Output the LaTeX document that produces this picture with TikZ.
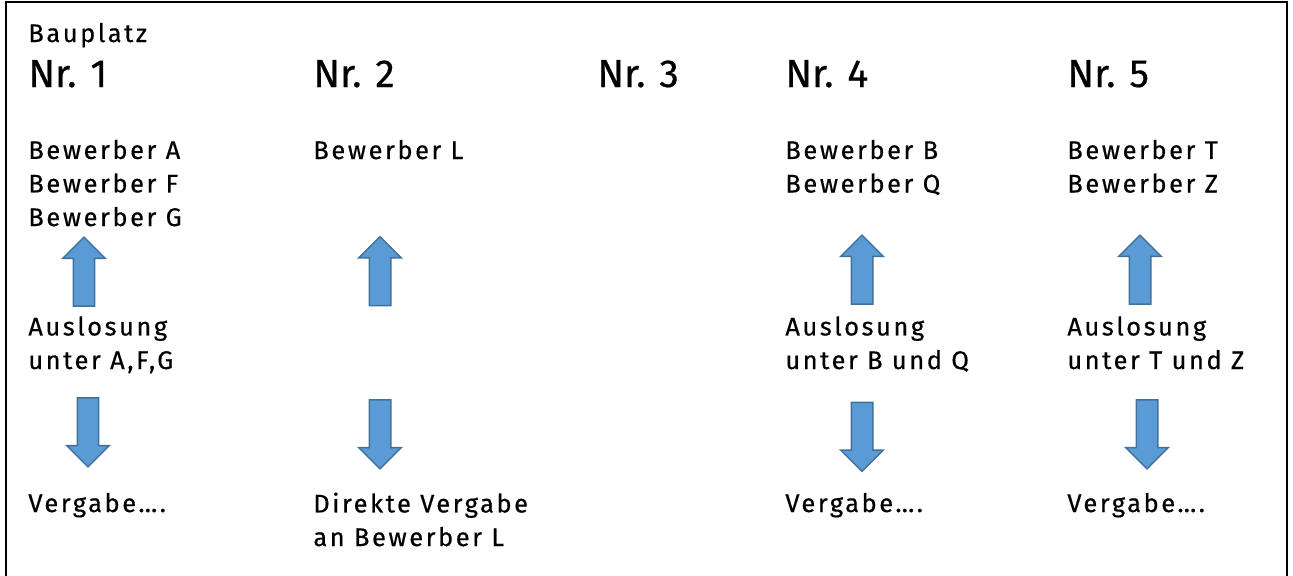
\documentclass[tikz,border=0pt]{standalone}
\usepackage{fontspec}
\setmainfont{Fira Sans}[FakeBold=0.5]
\newfontfamily\bodyfont{Fira Sans}[LetterSpace=10,FakeBold=0.5]
\usetikzlibrary{shapes.arrows}
\definecolor{arrowfill}{HTML}{5B9BD5}
\definecolor{arrowline}{HTML}{41719C}
\begin{document}
\begin{tikzpicture}[x=0.02cm,y=-0.02cm,
  txt/.style={anchor=base west,inner sep=0pt,align=left,font=\bodyfont\fontsize{14.5}{19.1}\selectfont},
  head/.style={anchor=base west,inner sep=0pt,font=\fontsize{22.3}{26}\selectfont},
  blockarrow/.style={single arrow,draw=arrowline,fill=arrowfill,line width=0.03cm,inner sep=0.2cm,
    minimum height=1.38cm,minimum width=0.82cm,single arrow head extend=0.21cm,single arrow tip angle=90}]
\useasboundingbox (0,0) rectangle (1293,575);
\begin{scope}
\clip (0,0) rectangle (1293,575);
\draw[line width=0.04cm] (6,1.5) rectangle (1287,600);
\end{scope}

% multi-line texts are placed by the baseline of their last line
\node(P)[txt] at (28,42) {Bauplatz};
\node(N1)[head] at (28,87) {Nr. 1};
\node(N2)[head] at (313,87) {Nr. 2};
\node(N3)[head] at (597,87) {Nr. 3};
\node(N4)[head] at (785,87) {Nr. 4};
\node(N5)[head] at (1067,87) {Nr. 5};

\node(W1)[txt] at (28,226) {Bewerber A\\Bewerber F\\Bewerber G};
\node(W2)[txt] at (313,159) {Bewerber L};
\node(W4)[txt] at (785,192.5) {Bewerber B\\Bewerber Q};
\node(W5)[txt] at (1067,192.5) {Bewerber T\\Bewerber Z};

\node(L1)[txt] at (28,369) {Auslosung\\unter A,F,G};
\node(L4)[txt] at (785,369) {Auslosung\\unter B und Q};
\node(L5)[txt] at (1067,369) {Auslosung\\unter T und Z};

\node(V1)[txt] at (28,512) {Vergabe….};
\node(V2)[txt] at (313,546) {Direkte Vergabe\\an Bewerber L};
\node(V4)[txt] at (785,512) {Vergabe….};
\node(V5)[txt] at (1067,512) {Vergabe….};

\node(U1)[blockarrow,shape border rotate=90] at (84,277) {};
\node(U2)[blockarrow,shape border rotate=90] at (380,276.5) {};
\node(U4)[blockarrow,shape border rotate=90] at (862,275) {};
\node(U5)[blockarrow,shape border rotate=90] at (1140,275) {};

\node(D1)[blockarrow,shape border rotate=270] at (88,427) {};
\node(D2)[blockarrow,shape border rotate=270] at (380,429) {};
\node(D4)[blockarrow,shape border rotate=270] at (862,431.5) {};
\node(D5)[blockarrow,shape border rotate=270] at (1147,429) {};

\end{tikzpicture}
\end{document}
